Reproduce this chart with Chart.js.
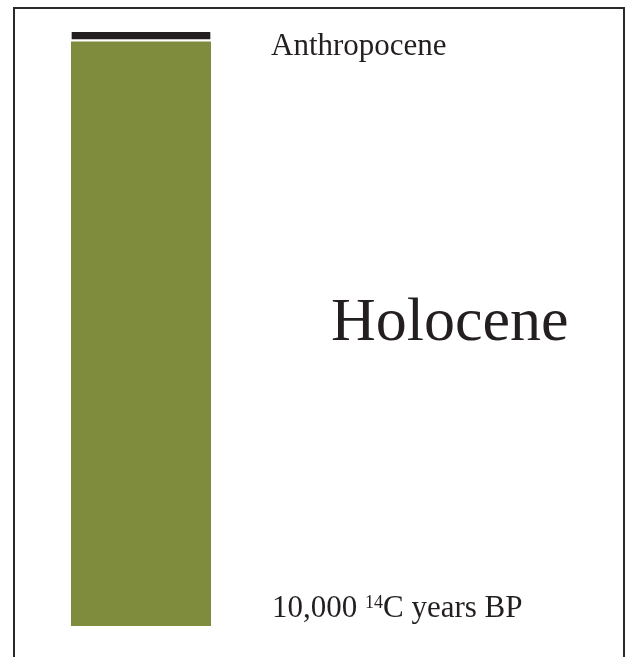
<!DOCTYPE html>
<html>
<head>
<meta charset="utf-8">
<script src="https://cdn.jsdelivr.net/npm/chart.js@4/dist/chart.umd.min.js"></script>
<style>
  html, body { margin: 0; padding: 0; background: #ffffff; }
  #wrap { position: relative; width: 625px; height: 657px; overflow: hidden; background: #fff; }
  #frame { position: absolute; left: 13px; top: 7px; width: 608px; height: 660px;
           border-left: 2px solid #2a2a2a; border-top: 2px solid #2a2a2a; border-right: 2px solid #2a2a2a; }
  canvas { position: absolute; left: 0; top: 0; }
  .lbl { position: absolute; font-family: "Liberation Serif", "DejaVu Serif", serif; color: #231f20;
         line-height: 1; white-space: nowrap; }
  .sup { font-size: 18px; vertical-align: 9px; line-height: 0; }
</style>
</head>
<body>
<div id="wrap">
  <div id="frame"></div>
  <canvas id="c" width="625" height="657"></canvas>
  <div class="lbl" id="tAnthro" style="left:271px; top:29px; font-size:31px;"></div>
  <div class="lbl" id="tHolo" style="left:331px; top:288px; font-size:62px;"></div>
  <div class="lbl" id="tBase" style="left:272px; top:591px; font-size:31px;"></div>
</div>
<script>
// ---- data ----
const categories = ['Quaternary'];
const epochNames = ['Holocene', 'Anthropocene'];
const holoceneYears = [10000];     // 14C years BP, length of Holocene
const anthropoceneYears = [170];   // years on top of Holocene
const baseLabelNumber = '10,000';
const baseLabelIsotope = '14';
const baseLabelUnit = 'C years BP';

document.getElementById('tAnthro').textContent = epochNames[1];
document.getElementById('tHolo').textContent = epochNames[0];
document.getElementById('tBase').innerHTML =
  baseLabelNumber + ' <span class="sup">' + baseLabelIsotope + '</span>' + baseLabelUnit;

new Chart(document.getElementById('c'), {
  type: 'bar',
  data: {
    labels: categories,
    datasets: [
      { label: epochNames[0], data: holoceneYears, backgroundColor: '#7f8c3e',
        borderWidth: 0, categoryPercentage: 1, barPercentage: 1 },
      { label: epochNames[1], data: anthropoceneYears, backgroundColor: '#231f20',
        borderColor: '#ffffff', borderSkipped: false,
        borderWidth: { top: 0, bottom: 3, left: 1, right: 1 },
        categoryPercentage: 1, barPercentage: 1 }
    ]
  },
  options: {
    responsive: false,
    animation: false,
    devicePixelRatio: 1,
    layout: { padding: { left: 71, right: 414, top: 32, bottom: 31 } },
    plugins: { legend: { display: false }, tooltip: { enabled: false }, title: { display: false } },
    scales: {
      x: { stacked: true, display: false },
      y: { stacked: true, display: false, min: 0,
           max: holoceneYears[0] + anthropoceneYears[0] }
    }
  }
});
</script>
</body>
</html>
